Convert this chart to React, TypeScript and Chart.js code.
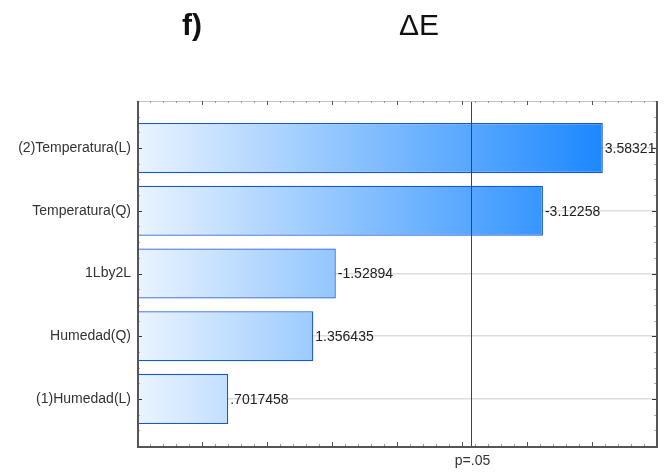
import React, { useEffect, useRef } from 'react';
import { Chart, registerables } from 'chart.js';

Chart.register(...registerables);

// ---- data ----
const categories = ['(2)Temperatura(L)', 'Temperatura(Q)', '1Lby2L', 'Humedad(Q)', '(1)Humedad(L)'];
const effects = [3.58321, -3.12258, -1.52894, 1.356435, 0.7017458];
const effectLabels = ['3.58321', '-3.12258', '-1.52894', '1.356435', '.7017458'];
const pCritical = 2.5706;
const pLabel = 'p=.05';
const titleLeft = 'f)';
const titleRight = 'ΔE';
const xMin = 0;
const xMax = 4;

const FONT = '"Liberation Sans", Arial, sans-serif';

const overlayPlugin = {
  id: 'overlay',
  afterDatasetsDraw(chart: any) {
    const { ctx, chartArea } = chart;
    const xs = chart.scales.x;
    const ys = chart.scales.y;
    const { left, right, top, bottom } = chartArea;
    ctx.save();

    // value labels
    ctx.font = '14px ' + FONT;
    ctx.fillStyle = '#222';
    ctx.textAlign = 'left';
    ctx.textBaseline = 'middle';
    effects.forEach((v, i) => {
      const px = xs.getPixelForValue(Math.abs(v));
      const py = ys.getPixelForValue(i + 1);
      ctx.fillText(effectLabels[i], px + 2, py + 1);
    });

    // critical line
    const cx = Math.round(xs.getPixelForValue(pCritical)) + 0.5;
    ctx.strokeStyle = '#e00000';
    ctx.lineWidth = 1;
    ctx.beginPath();
    ctx.moveTo(cx, top);
    ctx.lineTo(cx, bottom);
    ctx.stroke();

    // frame top
    ctx.strokeStyle = '#c4c4c4';
    ctx.lineWidth = 1;
    ctx.beginPath();
    ctx.moveTo(left, top + 0.5);
    ctx.lineTo(right, top + 0.5);
    ctx.stroke();

    // ticks on x (top & bottom)
    for (let k = 0; k <= (xMax - xMin) * 10; k++) {
      const v = xMin + k * 0.1;
      const px = Math.round(xs.getPixelForValue(v)) + 0.5;
      const major = k % 5 === 0;
      ctx.strokeStyle = major ? '#555' : '#999';
      const len = major ? 4 : 2;
      ctx.beginPath();
      ctx.moveTo(px, bottom);
      ctx.lineTo(px, bottom - len);
      ctx.moveTo(px, top);
      ctx.lineTo(px, top + len);
      ctx.stroke();
    }
    // ticks on y (left & right)
    for (let k = 1; k <= 22; k++) {
      const v = k * 0.25;
      if (v < ys.min || v > ys.max) continue;
      const py = Math.round(ys.getPixelForValue(v)) + 0.5;
      const major = k % 4 === 0;
      ctx.strokeStyle = major ? '#333' : '#aaa';
      const len = major ? 4 : 2;
      ctx.beginPath();
      ctx.moveTo(left, py);
      ctx.lineTo(left + len + 1, py);
      ctx.moveTo(right, py);
      ctx.lineTo(right - len - 1, py);
      ctx.stroke();
    }

    ctx.strokeStyle = '#555';
    ctx.lineWidth = 2;
    ctx.beginPath();
    ctx.moveTo(left + 1, top);
    ctx.lineTo(left + 1, bottom + 1);
    ctx.lineTo(right, bottom + 1);
    ctx.lineTo(right, top);
    ctx.stroke();

    // p label
    ctx.font = '14px ' + FONT;
    ctx.fillStyle = '#333';
    ctx.textAlign = 'center';
    ctx.textBaseline = 'middle';
    ctx.fillText(pLabel, cx + 1, bottom + 15);

    // title
    ctx.fillStyle = '#111';
    ctx.textAlign = 'left';
    ctx.textBaseline = 'alphabetic';
    ctx.font = 'bold 30px ' + FONT;
    ctx.fillText(titleLeft, 182, 35);
    ctx.font = '30px ' + FONT;
    ctx.fillText(titleRight, 399, 35);

    ctx.restore();
  },
};

export default function App() {
  const ref = useRef<HTMLCanvasElement | null>(null);

  useEffect(() => {
    if (!ref.current) return;
    const maxAbs = Math.max(...effects.map((v) => Math.abs(v)));
    const chart = new Chart(ref.current, {
      type: 'bar',
      data: {
        datasets: [
          {
            data: effects.map((v, i) => ({ x: Math.abs(v), y: i + 1 })),
            backgroundColor: (c: any) => {
              const ch = c.chart;
              if (!ch.chartArea) return '#8ec2ff';
              const xs = ch.scales.x;
              const g = ch.ctx.createLinearGradient(xs.getPixelForValue(0), 0, xs.getPixelForValue(maxAbs), 0);
              g.addColorStop(0, 'rgb(234,244,255)');
              g.addColorStop(1, 'rgb(28,136,255)');
              return g;
            },
            borderColor: '#1a56d0',
            borderWidth: 1.3,
            borderSkipped: 'start',
            barPercentage: 1,
            categoryPercentage: 0.8,
          } as any,
        ],
      },
      options: {
        indexAxis: 'y',
        responsive: false,
        animation: false,
        layout: { padding: { top: 101, right: 13, bottom: 26, left: 0 } },
        plugins: { legend: { display: false }, tooltip: { enabled: false }, title: { display: false } },
        scales: {
          x: { type: 'linear', display: false, min: xMin, max: xMax, offset: false },
          y: {
            type: 'linear',
            reverse: true,
            offset: false,
            min: 0.25,
            max: 5.75,
            afterFit: (s: any) => {
              s.width = 137;
            },
            afterBuildTicks: (s: any) => {
              s.ticks = categories.map((_, i) => ({ value: i + 1 }));
            },
            border: { display: false },
            grid: { color: '#dedede', lineWidth: 1.5, drawTicks: false, offset: false },
            ticks: {
              padding: 6,
              color: '#333',
              font: { family: FONT, size: 14 },
              autoSkip: false,
              callback: (v: any) => categories[Math.round(Number(v)) - 1] ?? '',
            },
          },
        },
      } as any,
      plugins: [overlayPlugin],
    });
    return () => chart.destroy();
  }, []);

  return (
    <div style={{ position: 'absolute', left: 0, top: 0, width: 670, height: 472, background: '#fff' }}>
      <canvas ref={ref} width={670} height={472} style={{ display: 'block', width: 670, height: 472 }} />
    </div>
  );
}
